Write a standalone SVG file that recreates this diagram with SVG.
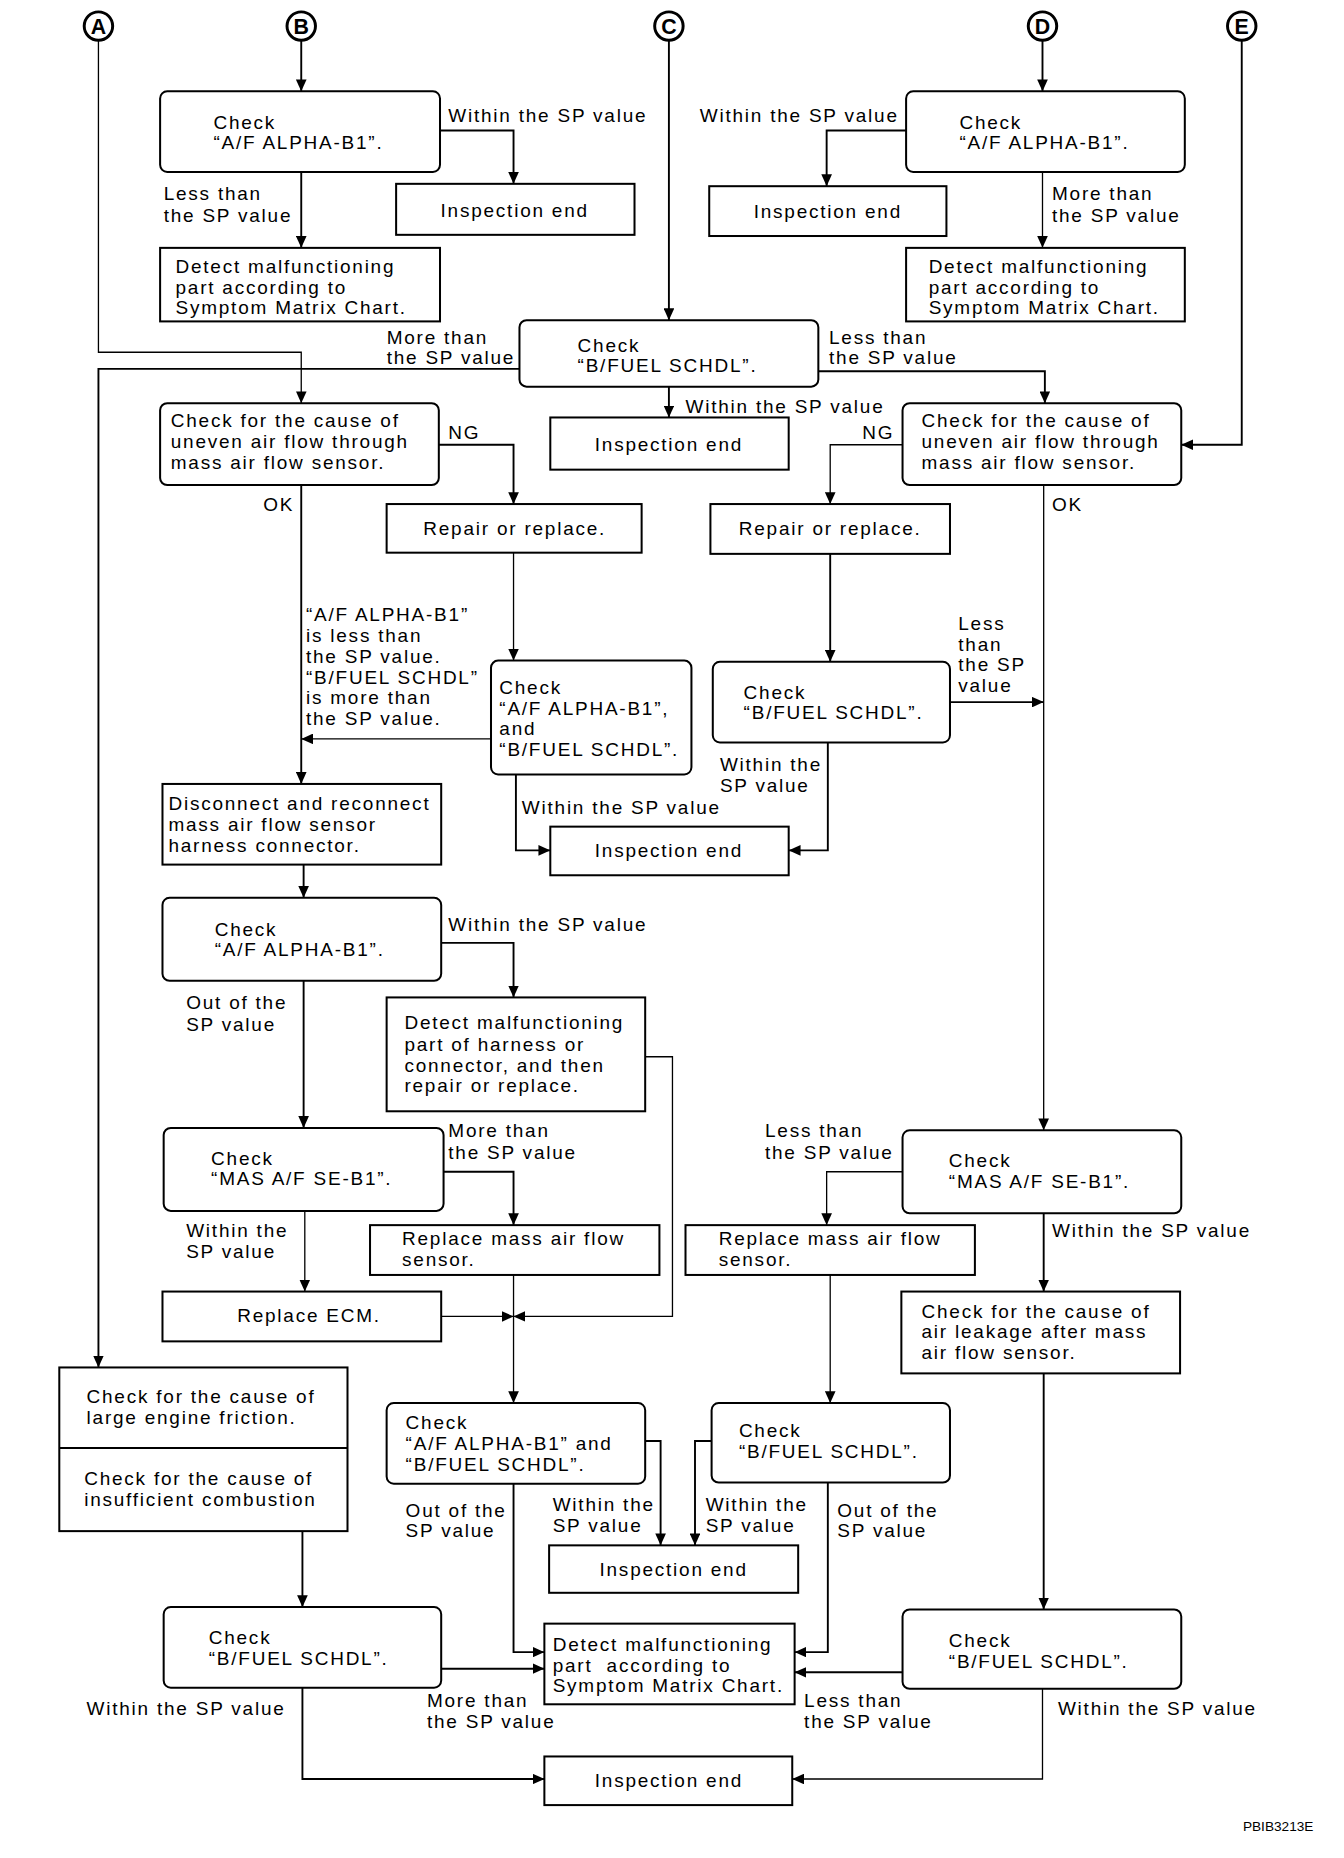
<svg xmlns="http://www.w3.org/2000/svg" width="1344" height="1858" viewBox="0 0 1344 1858">
<defs>
<style>
.box{fill:#fff;stroke:#000;stroke-width:1.7}
.c{fill:none;stroke:#000;stroke-width:1.6;marker-end:url(#ah)}
.n{fill:none;stroke:#000;stroke-width:1.6}
.t{stroke-width:1.1}
text{font-family:"Liberation Sans",Arial,Helvetica,sans-serif;font-size:16px;letter-spacing:1.5px;fill:#000}
.m{text-anchor:middle}
.L{font-weight:bold;font-size:18px;letter-spacing:0;text-anchor:middle}
.cir{fill:#fff;stroke:#000;stroke-width:2.5}
.id{font-size:11.5px;letter-spacing:0}
</style>
<marker id="ah" viewBox="0 0 10 9" refX="10" refY="4.5" markerWidth="10" markerHeight="9" markerUnits="userSpaceOnUse" orient="auto"><path d="M0,0 L10,4.5 L0,9 z" fill="#000"/></marker>
</defs>
<rect width="1344" height="1858" fill="#fff"/>
<g transform="scale(1.186)">
<g id="connectors">
<path class="c" d="M254,34 V77"/>
<path class="c" d="M371,110 H433 V155"/>
<path class="c" d="M254,145 V209"/>
<path class="c" d="M879,34 V77"/>
<path class="c" d="M764,110 H697 V157"/>
<path class="c t" d="M879,145 V209"/>
<path class="c" d="M564,34 V270"/>
<path class="c t" d="M83,34 V297 H254 V340"/>
<path class="c" d="M438,311 H83 V1153"/>
<path class="c" d="M690,313 H881 V340"/>
<path class="c" d="M564,326 V352"/>
<path class="c" d="M370,375 H433 V425"/>
<path class="c t" d="M433,466 V557"/>
<path class="c" d="M254,409 V661"/>
<path class="c t" d="M414,623 H254"/>
<path class="c" d="M435,653 V717 H464"/>
<path class="c" d="M1047,34 V375 H996"/>
<path class="c t" d="M761,375 H700 V425"/>
<path class="c" d="M700,467 V558"/>
<path class="c" d="M801,592 H880"/>
<path class="c" d="M698,626 V717 H665"/>
<path class="c t" d="M880,409 V953"/>
<path class="c" d="M256,729 V757"/>
<path class="c" d="M372,795 H433 V841"/>
<path class="c t" d="M544,891 H567 V1110 H433"/>
<path class="c" d="M256,827 V951"/>
<path class="c" d="M374,988 H433 V1033"/>
<path class="c t" d="M257,1021 V1089"/>
<path class="c t" d="M372,1110 H433"/>
<path class="c t" d="M433,1075 V1183"/>
<path class="c t" d="M761,988 H697 V1033"/>
<path class="c" d="M880,1023 V1089"/>
<path class="c t" d="M700,1075 V1183"/>
<path class="c" d="M880,1158 V1357"/>
<path class="c" d="M255,1291 V1355"/>
<path class="c" d="M372,1407 H459"/>
<path class="c" d="M255,1423 V1500 H459"/>
<path class="c" d="M544,1215 H557 V1303"/>
<path class="c" d="M433,1251 V1393 H459"/>
<path class="c" d="M600,1215 H586 V1303"/>
<path class="c" d="M698,1250 V1393 H670"/>
<path class="c" d="M761,1410 H670"/>
<path class="c t" d="M879,1424 V1500 H668"/>
</g>
<g id="labels">
<text x="378" y="103">Within the SP value</text>
<text x="138" y="169">Less than</text><text x="138" y="187">the SP value</text>
<text x="590" y="103">Within the SP value</text>
<text x="887" y="169">More than</text><text x="887" y="187">the SP value</text>
<text x="326" y="290">More than</text><text x="326" y="307">the SP value</text>
<text x="699" y="290">Less than</text><text x="699" y="307">the SP value</text>
<text x="578" y="348">Within the SP value</text>
<text x="378" y="370">NG</text>
<text x="727" y="370">NG</text>
<text x="222" y="431">OK</text>
<text x="887" y="431">OK</text>
<text x="258" y="524">“A/F ALPHA-B1”</text>
<text x="258" y="541.5">is less than</text>
<text x="258" y="559">the SP value.</text>
<text x="258" y="576.5">“B/FUEL SCHDL”</text>
<text x="258" y="594">is more than</text>
<text x="258" y="611.5">the SP value.</text>
<text x="440" y="686">Within the SP value</text>
<text x="808" y="531">Less</text><text x="808" y="548.5">than</text><text x="808" y="566">the SP</text><text x="808" y="583.5">value</text>
<text x="607" y="650">Within the</text><text x="607" y="667.5">SP value</text>
<text x="378" y="785">Within the SP value</text>
<text x="157" y="851">Out of the</text><text x="157" y="869">SP value</text>
<text x="378" y="959">More than</text><text x="378" y="977">the SP value</text>
<text x="157" y="1043">Within the</text><text x="157" y="1061">SP value</text>
<text x="645" y="959">Less than</text><text x="645" y="977">the SP value</text>
<text x="887" y="1043">Within the SP value</text>
<text x="466" y="1274">Within the</text><text x="466" y="1292">SP value</text>
<text x="342" y="1279">Out of the</text><text x="342" y="1296">SP value</text>
<text x="595" y="1274">Within the</text><text x="595" y="1292">SP value</text>
<text x="706" y="1279">Out of the</text><text x="706" y="1296">SP value</text>
<text x="360" y="1439">More than</text><text x="360" y="1457">the SP value</text>
<text x="678" y="1439">Less than</text><text x="678" y="1457">the SP value</text>
<text x="73" y="1446">Within the SP value</text>
<text x="892" y="1446">Within the SP value</text>
<text class="id" x="1048" y="1544">PBIB3213E</text>
</g>
<g id="A"><circle class="cir" cx="83" cy="22" r="12"/><text class="L" x="83" y="28.5">A</text></g>
<g id="B"><circle class="cir" cx="254" cy="22" r="12"/><text class="L" x="254" y="28.5">B</text></g>
<g id="C"><circle class="cir" cx="564" cy="22" r="12"/><text class="L" x="564" y="28.5">C</text></g>
<g id="D"><circle class="cir" cx="879" cy="22" r="12"/><text class="L" x="879" y="28.5">D</text></g>
<g id="E"><circle class="cir" cx="1047" cy="22" r="12"/><text class="L" x="1047" y="28.5">E</text></g>
<g id="checkB"><rect class="box" x="135" y="77" width="236" height="68" rx="6"/><text x="180" y="109">Check</text><text x="180" y="126">“A/F ALPHA-B1”.</text></g>
<g id="ie1"><rect class="box" x="334" y="155" width="201" height="43"/><text class="m" x="434" y="183">Inspection end</text></g>
<g id="det1"><rect class="box" x="135" y="209" width="236" height="62"/><text x="148" y="230">Detect malfunctioning</text><text x="148" y="248">part according to</text><text x="148" y="265">Symptom Matrix Chart.</text></g>
<g id="checkD"><rect class="box" x="764" y="77" width="235" height="68" rx="6"/><text x="809" y="109">Check</text><text x="809" y="126">“A/F ALPHA-B1”.</text></g>
<g id="ie2"><rect class="box" x="598" y="157" width="200" height="42"/><text class="m" x="698" y="184">Inspection end</text></g>
<g id="det2"><rect class="box" x="764" y="209" width="235" height="62"/><text x="783" y="230">Detect malfunctioning</text><text x="783" y="248">part according to</text><text x="783" y="265">Symptom Matrix Chart.</text></g>
<g id="checkC"><rect class="box" x="438" y="270" width="252" height="56" rx="6"/><text x="487" y="297">Check</text><text x="487" y="314">“B/FUEL SCHDL”.</text></g>
<g id="ie3"><rect class="box" x="464" y="352" width="201" height="44"/><text class="m" x="564" y="380">Inspection end</text></g>
<g id="uneven1"><rect class="box" x="135" y="340" width="235" height="69" rx="6"/><text x="144" y="360">Check for the cause of</text><text x="144" y="378">uneven air flow through</text><text x="144" y="395.5">mass air flow sensor.</text></g>
<g id="repair1"><rect class="box" x="326" y="425" width="215" height="41"/><text class="m" x="434" y="451">Repair or replace.</text></g>
<g id="uneven2"><rect class="box" x="761" y="340" width="235" height="69" rx="6"/><text x="777" y="360">Check for the cause of</text><text x="777" y="378">uneven air flow through</text><text x="777" y="395.5">mass air flow sensor.</text></g>
<g id="repair2"><rect class="box" x="599" y="425" width="202" height="42"/><text class="m" x="700" y="451">Repair or replace.</text></g>
<g id="checkBoth1"><rect class="box" x="414" y="557" width="169" height="96" rx="6"/><text x="421" y="585">Check</text><text x="421" y="602.5">“A/F ALPHA-B1”,</text><text x="421" y="620">and</text><text x="421" y="637.5">“B/FUEL SCHDL”.</text></g>
<g id="checkFuel1"><rect class="box" x="601" y="558" width="200" height="68" rx="6"/><text x="627" y="589">Check</text><text x="627" y="606">“B/FUEL SCHDL”.</text></g>
<g id="ie4"><rect class="box" x="464" y="697" width="201" height="41"/><text class="m" x="564" y="723">Inspection end</text></g>
<g id="disconnect"><rect class="box" x="137" y="661" width="235" height="68"/><text x="142" y="683">Disconnect and reconnect</text><text x="142" y="700.5">mass air flow sensor</text><text x="142" y="718">harness connector.</text></g>
<g id="checkA2"><rect class="box" x="137" y="757" width="235" height="70" rx="6"/><text x="181" y="789">Check</text><text x="181" y="806">“A/F ALPHA-B1”.</text></g>
<g id="detHarness"><rect class="box" x="326" y="841" width="218" height="96"/><text x="341" y="868">Detect malfunctioning</text><text x="341" y="886">part of harness or</text><text x="341" y="903.5">connector, and then</text><text x="341" y="921">repair or replace.</text></g>
<g id="checkMAS1"><rect class="box" x="138" y="951" width="236" height="70" rx="6"/><text x="178" y="982">Check</text><text x="178" y="999.5">“MAS A/F SE-B1”.</text></g>
<g id="replMAF1"><rect class="box" x="312" y="1033" width="244" height="42"/><text x="339" y="1050">Replace mass air flow</text><text x="339" y="1067.5">sensor.</text></g>
<g id="replECM"><rect class="box" x="137" y="1089" width="235" height="42"/><text x="200" y="1115">Replace ECM.</text></g>
<g id="checkMAS2"><rect class="box" x="761" y="953" width="235" height="70" rx="6"/><text x="800" y="984">Check</text><text x="800" y="1001.5">“MAS A/F SE-B1”.</text></g>
<g id="replMAF2"><rect class="box" x="578" y="1033" width="244" height="42"/><text x="606" y="1050">Replace mass air flow</text><text x="606" y="1067.5">sensor.</text></g>
<g id="airLeak"><rect class="box" x="760" y="1089" width="235" height="69"/><text x="777" y="1111">Check for the cause of</text><text x="777" y="1128.5">air leakage after mass</text><text x="777" y="1146">air flow sensor.</text></g>
<g id="friction"><rect class="box" x="50" y="1153" width="243" height="138"/><line x1="50" y1="1221" x2="293" y2="1221" stroke="#000" stroke-width="1.7"/><text x="73" y="1183">Check for the cause of</text><text x="73" y="1200.5">large engine friction.</text><text x="71" y="1252">Check for the cause of</text><text x="71" y="1269.5">insufficient combustion</text></g>
<g id="checkBoth2"><rect class="box" x="326" y="1183" width="218" height="68" rx="6"/><text x="342" y="1205">Check</text><text x="342" y="1222.5">“A/F ALPHA-B1” and</text><text x="342" y="1240">“B/FUEL SCHDL”.</text></g>
<g id="checkFuel2"><rect class="box" x="600" y="1183" width="201" height="67" rx="6"/><text x="623" y="1212">Check</text><text x="623" y="1229.5">“B/FUEL SCHDL”.</text></g>
<g id="ie5"><rect class="box" x="463" y="1303" width="210" height="40"/><text class="m" x="568" y="1329">Inspection end</text></g>
<g id="detMatrix"><rect class="box" x="459" y="1369" width="211" height="68"/><text x="466" y="1392">Detect malfunctioning</text><text x="466" y="1409.5">part&#160; according to</text><text x="466" y="1427">Symptom Matrix Chart.</text></g>
<g id="checkFuel3"><rect class="box" x="138" y="1355" width="234" height="68" rx="6"/><text x="176" y="1386">Check</text><text x="176" y="1403.5">“B/FUEL SCHDL”.</text></g>
<g id="checkFuel4"><rect class="box" x="761" y="1357" width="235" height="67" rx="6"/><text x="800" y="1389">Check</text><text x="800" y="1406.5">“B/FUEL SCHDL”.</text></g>
<g id="ie6"><rect class="box" x="459" y="1481" width="209" height="41"/><text class="m" x="564" y="1507">Inspection end</text></g>
</g>
</svg>
